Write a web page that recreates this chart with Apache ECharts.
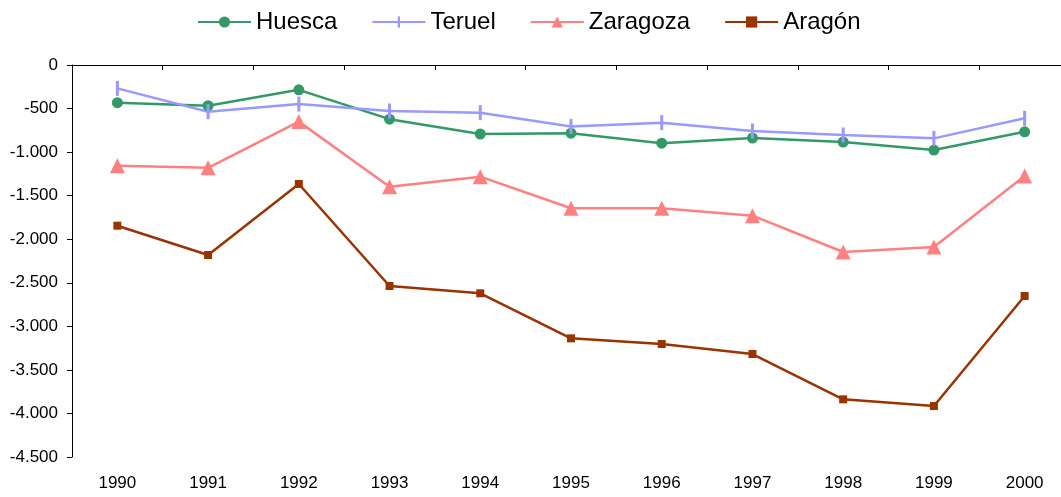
<!DOCTYPE html>
<html>
<head>
    <meta charset="utf-8" />
    <title>Aragón</title>
    <style>
        html, body { margin: 0; padding: 0; background: #fff; overflow: hidden; }
        /* the plot area runs a little past the right edge of the picture */
        #linechart { width: 1070px; height: 497px; }
    </style>
</head>
<body>
    <div id="linechart"></div>
    <script src="https://cdn.jsdelivr.net/npm/echarts@6/dist/echarts.min.js"></script>
    <script>
        var years = ['1990', '1991', '1992', '1993', '1994', '1995', '1996', '1997', '1998', '1999', '2000'];
        var huesca = [-433, -467, -285, -622, -792, -783, -898, -838, -884, -976, -767];
        var teruel = [-268, -536, -448, -528, -547, -705, -662, -758, -804, -842, -612];
        var zaragoza = [-1156, -1180, -650, -1397, -1282, -1645, -1645, -1730, -2147, -2089, -1275];
        var aragon = [-1845, -2181, -1366, -2537, -2621, -3138, -3203, -3318, -3838, -3915, -2652];

        // 1.500 style labels (punto de miles)
        function fmt(v) {
            var s = Math.abs(v).toString();
            if (s.length > 3) s = s.slice(0, s.length - 3) + '.' + s.slice(s.length - 3);
            return (v < 0 ? '-' : '') + s;
        }

        var font = 'Liberation Sans, Arial, sans-serif';
        // vertical bar inside a square box so the legend icon keeps its shape
        var bar = 'path://M0,0L0,0M2,0L3,0L3,5L2,5ZM5,5L5,5';

        function serie(name, data, color, symbol, size) {
            return {
                name: name,
                type: 'line',
                data: data,
                xAxisIndex: 0,
                symbol: symbol,
                symbolSize: size,
                lineStyle: { width: 2.5, color: color },
                itemStyle: { color: color },
                emphasis: { disabled: true }
            };
        }

        var option = {
            backgroundColor: '#fff',
            animation: false,
            legend: {
                top: 10,
                left: 197,
                padding: 0,
                itemWidth: 53,
                itemHeight: 14,
                itemGap: 34,
                textStyle: { fontFamily: font, fontSize: 24, color: '#000' },
                data: ['Huesca', 'Teruel', 'Zaragoza', 'Aragón']
            },
            grid: { left: 72, top: 65, right: 0, bottom: 40 },
            xAxis: [{
                type: 'category',
                position: 'bottom',
                data: years,
                axisLine: { show: false },
                axisTick: { show: false },
                axisLabel: { fontFamily: font, fontSize: 17, color: '#000', margin: 18 }
            }, {
                type: 'category',
                position: 'top',
                data: years,
                axisLine: { show: true, lineStyle: { color: '#000', width: 1 } },
                axisTick: { show: true, inside: true, length: 5, lineStyle: { color: '#000' } },
                axisLabel: { show: false }
            }],
            yAxis: {
                type: 'value',
                min: -4500,
                max: 0,
                interval: 500,
                splitLine: { show: false },
                axisLine: { show: true, lineStyle: { color: '#000', width: 1 } },
                axisTick: { show: true, length: 5, lineStyle: { color: '#000' } },
                axisLabel: { fontFamily: font, fontSize: 17, color: '#000', margin: 14, formatter: fmt }
            },
            series: [
                serie('Huesca', huesca, '#339966', 'circle', 11),
                serie('Teruel', teruel, '#9999FF', bar, 15),
                serie('Zaragoza', zaragoza, '#FF8080', 'triangle', 15),
                serie('Aragón', aragon, '#993300', 'rect', 8)
            ]
        };

        var lineChart = echarts.init(document.getElementById('linechart'));
        lineChart.setOption(option);
    </script>
</body>
</html>
